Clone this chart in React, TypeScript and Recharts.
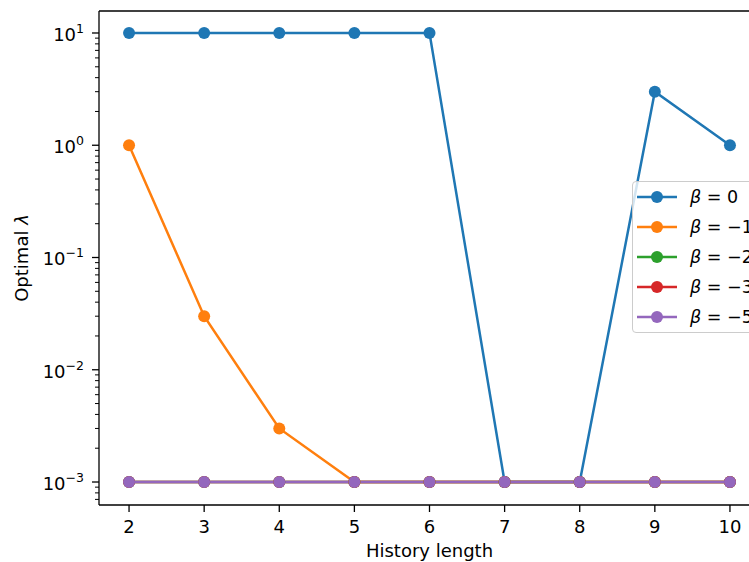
import React from "react";
import { LineChart, Line, XAxis, YAxis, ReferenceLine } from "recharts";

const historyLengths = [2, 3, 4, 5, 6, 7, 8, 9, 10];
const beta0 = [10, 10, 10, 10, 10, 0.001, 0.001, 3, 1];
const betaM1 = [1, 0.03, 0.003, 0.001, 0.001, 0.001, 0.001, 0.001, 0.001];
const betaM2 = [0.001, 0.001, 0.001, 0.001, 0.001, 0.001, 0.001, 0.001, 0.001];
const betaM3 = [0.001, 0.001, 0.001, 0.001, 0.001, 0.001, 0.001, 0.001, 0.001];
const betaM5 = [0.001, 0.001, 0.001, 0.001, 0.001, 0.001, 0.001, 0.001, 0.001];

const series = [
  { key: "b0", beta: "0", color: "#1f77b4", values: beta0 },
  { key: "b1", beta: "\u22121", color: "#ff7f0e", values: betaM1 },
  { key: "b2", beta: "\u22122", color: "#2ca02c", values: betaM2 },
  { key: "b3", beta: "\u22123", color: "#d62728", values: betaM3 },
  { key: "b5", beta: "\u22125", color: "#9467bd", values: betaM5 },
];

const xTicks = [2, 3, 4, 5, 6, 7, 8, 9, 10];
const yMin = 6.24e-4;
const yMax = 15.7;

const yTicks: number[] = [];
for (let e = -4; e <= 1; e++) {
  for (let m = 1; m <= 9; m++) {
    const v = m * Math.pow(10, e);
    if (v >= yMin && v <= yMax) yTicks.push(v);
  }
}

const data = historyLengths.map((x, i) => {
  const row: Record<string, number> = { x };
  series.forEach((s) => (row[s.key] = s.values[i]));
  return row;
});

const FONT = "DejaVu Sans";
const FS = 18;

const YTick = (props: any) => {
  const { x, y, payload } = props;
  const lg = Math.log10(payload.value);
  const major = Math.abs(lg - Math.round(lg)) < 1e-6;
  if (!major) {
    return <line x1={x - 4} x2={x} y1={y} y2={y} stroke="#000" strokeWidth={1} />;
  }
  const exp = Math.round(lg);
  const expStr = exp < 0 ? "\u2212" + Math.abs(exp) : String(exp);
  return (
    <g>
      <line x1={x - 7} x2={x} y1={y} y2={y} stroke="#000" strokeWidth={1.3} />
      <text x={x - 15} y={y + 8} textAnchor="end" fontFamily={FONT} fontSize={FS} fill="#000">
        10
        <tspan fontSize={12.5} dy={-8}>{expStr}</tspan>
      </text>
    </g>
  );
};

const XTick = (props: any) => {
  const { x, y, payload } = props;
  return (
    <g>
      <line x1={x} x2={x} y1={y} y2={y + 7} stroke="#000" strokeWidth={1.3} />
      <text x={x} y={y + 28} textAnchor="middle" fontFamily={FONT} fontSize={FS} fill="#000">
        {payload.value}
      </text>
    </g>
  );
};

const LegendBox = () => (
  <div
    style={{
      position: "absolute",
      left: 632,
      top: 181,
      border: "1px solid #cccccc",
      borderRadius: 4,
      background: "rgba(255,255,255,0.8)",
      width: 140,
      fontFamily: FONT,
      fontSize: 17.5,
    }}
  >
    {series.map((s) => (
      <div key={s.key} style={{ display: "flex", alignItems: "center", height: 30, paddingLeft: 4 }}>
        <svg width={40} height={16}>
          <line x1={0} x2={40} y1={8} y2={8} stroke={s.color} strokeWidth={2.5} />
          <circle cx={20} cy={8} r={6} fill={s.color} />
        </svg>
        <span style={{ marginLeft: 13, whiteSpace: "nowrap" }}>
          <span style={{ fontStyle: "italic" }}>β</span> = {s.beta}
        </span>
      </div>
    ))}
  </div>
);

export default function App() {
  return (
    <div style={{ position: "fixed", left: 0, top: 0, width: 749, height: 562, overflow: "hidden", background: "#fff" }}>
      <LineChart width={770} height={562} data={data} margin={{ top: 11, right: 10, bottom: 0, left: 0 }}>
        <XAxis
          dataKey="x"
          type="number"
          domain={[1.6, 10.4]}
          ticks={xTicks}
          interval={0}
          height={57}
          tickSize={0}
          tickMargin={0}
          tickLine={false}
          axisLine={{ stroke: "#000", strokeWidth: 1.3 }}
          tick={<XTick />}
          label={{
            content: () => (
              <text x={429.5} y={557} textAnchor="middle" fontFamily={FONT} fontSize={FS} fill="#000">
                History length
              </text>
            ),
          }}
        />
        <YAxis
          type="number"
          scale="log"
          domain={[yMin, yMax]}
          allowDataOverflow
          ticks={yTicks}
          interval={0}
          width={99}
          tickSize={0}
          tickMargin={0}
          tickLine={false}
          axisLine={{ stroke: "#000", strokeWidth: 1.3 }}
          tick={<YTick />}
          label={{
            content: () => (
              <text
                x={27.5}
                y={258}
                transform="rotate(-90 27.5 258)"
                textAnchor="middle"
                fontFamily={FONT}
                fontSize={FS}
                fill="#000"
              >
                Optimal <tspan fontStyle="italic">λ</tspan>
              </text>
            ),
          }}
        />
        <ReferenceLine y={yMax} stroke="#000" strokeWidth={1.3} />
        <ReferenceLine x={10.4} stroke="#000" strokeWidth={1.3} />
        {series.map((s) => (
          <Line
            key={s.key}
            dataKey={s.key}
            name={s.key}
            stroke={s.color}
            strokeWidth={2.5}
            dot={{ r: 6, fill: s.color, stroke: s.color, strokeWidth: 0 }}
            activeDot={false}
            isAnimationActive={false}
          />
        ))}
      </LineChart>
      <LegendBox />
    </div>
  );
}
